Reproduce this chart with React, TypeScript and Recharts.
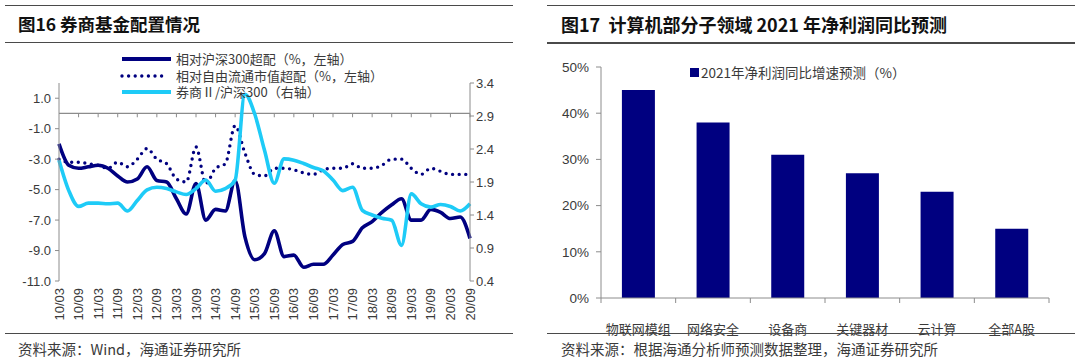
import React from 'react';
import { LineChart, Line, XAxis, YAxis, ReferenceLine, Legend, BarChart, Bar } from 'recharts';

const FONT = '"Liberation Sans", Arial, "Noto Sans CJK SC", sans-serif';
const CJK = '"Noto Sans CJK SC", "Liberation Sans", sans-serif';

// left panel: quarterly data 2010Q1 - 2020Q3
const quarterLabels = [
  '10/03', '10/06', '10/09', '10/12', '11/03', '11/06', '11/09', '11/12',
  '12/03', '12/06', '12/09', '12/12', '13/03', '13/06', '13/09', '13/12',
  '14/03', '14/06', '14/09', '14/12', '15/03', '15/06', '15/09', '15/12',
  '16/03', '16/06', '16/09', '16/12', '17/03', '17/06', '17/09', '17/12',
  '18/03', '18/06', '18/09', '18/12', '19/03', '19/06', '19/09', '19/12',
  '20/03', '20/06', '20/09',
];
const hs300Over = [
  -2.0, -3.4, -3.6, -3.5, -3.4, -3.6, -4.1, -4.5, -4.3, -3.5, -4.4, -4.5,
  -5.6, -6.6, -4.6, -7.0, -6.3, -6.4, -4.4, -8.1, -9.6, -9.2, -7.7, -9.4,
  -9.3, -10.1, -9.9, -9.9, -9.3, -8.6, -8.4, -7.5, -7.1, -6.5, -6.0, -5.6,
  -7.0, -7.0, -6.3, -6.5, -6.9, -6.8, -8.2,
];
const freeFloatOver = [
  -3.0, -3.2, -3.2, -3.3, -3.4, -3.6, -3.2, -3.5, -3.0, -2.3, -3.0, -3.3,
  -4.3, -4.5, -2.2, -4.6, -3.6, -3.3, -0.8, -2.6, -4.0, -4.1, -3.6, -3.6,
  -3.7, -3.9, -4.0, -3.7, -3.6, -3.6, -3.3, -3.6, -3.6, -3.4, -3.0, -3.0,
  -3.6, -4.0, -3.6, -3.8, -4.0, -4.0, -4.0,
];
const brokerRatio = [
  2.23, 1.77, 1.53, 1.58, 1.58, 1.57, 1.58, 1.46, 1.62, 1.78, 1.82, 1.80,
  1.75, 1.71, 1.80, 1.93, 1.76, 1.80, 1.93, 3.23, 2.93, 2.38, 1.88, 2.25,
  2.23, 2.18, 2.12, 2.07, 1.93, 1.77, 1.82, 1.47, 1.40, 1.35, 1.32, 0.94,
  1.72, 1.57, 1.52, 1.56, 1.53, 1.46, 1.57,
];
const leftTicks = [-11, -9, -7, -5, -3, -1, 1];
const rightTicks = [0.4, 0.9, 1.4, 1.9, 2.4, 2.9, 3.4];

// right panel
const sectors = ['物联网模组', '网络安全', '设备商', '关键器材', '云计算', '全部A股'];
const growth2021 = [45, 38, 31, 27, 23, 15];
const pctTicks = [0, 10, 20, 30, 40, 50];

const lineData = quarterLabels.map((q, i) => ({
  q,
  hs300: hs300Over[i],
  free: freeFloatOver[i],
  ratio: brokerRatio[i],
}));
const barData = sectors.map((name, i) => ({ name, growth: growth2021[i] }));

const NAVY = '#000080';
const CYAN = '#1ECBF7';
const AXIS = '#8c8c8c';
const TXT = '#3a3a3a';
const BAR_PLOT_W = 448;

const seriesOrder = ['hs300', 'free', 'ratio'];
const dashFor: Record<string, string | undefined> = { free: '0 6.6' };

function LineLegend(props: any) {
  const items = [...(props.payload || [])].sort(
    (a: any, b: any) => seriesOrder.indexOf(a.dataKey) - seriesOrder.indexOf(b.dataKey)
  );
  return (
    <div style={{ fontFamily: CJK, fontSize: 13, color: TXT, lineHeight: '16px' }}>
      {items.map((e: any) => (
        <div key={e.value} style={{ display: 'flex', alignItems: 'center', height: 16.5 }}>
          <svg width={56} height={8}>
            <line
              x1={3}
              y1={4}
              x2={dashFor[e.dataKey] ? 46 : 52}
              y2={4}
              stroke={e.color}
              strokeWidth={dashFor[e.dataKey] ? 3.4 : 4}
              strokeDasharray={dashFor[e.dataKey]}
              strokeLinecap={dashFor[e.dataKey] ? 'round' : 'butt'}
            />
          </svg>
          <span style={{ marginLeft: 1, whiteSpace: 'nowrap' }}>{e.value}</span>
        </div>
      ))}
    </div>
  );
}

function BarLegend(props: any) {
  const items = props.payload || [];
  return (
    <div style={{ fontFamily: CJK, fontSize: 13.5, color: TXT }}>
      {items.map((e: any) => (
        <div key={e.value} style={{ display: 'flex', alignItems: 'center' }}>
          <span style={{ width: 9, height: 9, background: e.color, display: 'inline-block' }} />
          <span style={{ marginLeft: 2, whiteSpace: 'nowrap' }}>{e.value}</span>
        </div>
      ))}
    </div>
  );
}

function QuarterTick(props: any) {
  const { x, y, payload } = props;
  return (
    <text
      transform={`translate(${x},${y + 7}) rotate(-90)`}
      textAnchor="end"
      dy="0.35em"
      fontFamily={FONT}
      fontSize={13}
      fill={TXT}
    >
      {payload.value}
    </text>
  );
}

function SectorTick(props: any) {
  const { x, y, payload, index } = props;
  const band = BAR_PLOT_W / sectors.length;
  const left = x - band / 2;
  return (
    <g>
      <line x1={left} y1={y} x2={left} y2={y + 5} stroke={AXIS} />
      {index === sectors.length - 1 && (
        <line x1={left + band} y1={y} x2={left + band} y2={y + 5} stroke={AXIS} />
      )}
      <text x={x} y={y + 31} textAnchor="middle" dy="0.35em" fontFamily={CJK} fontSize={13} fill={TXT}>
        {payload.value}
      </text>
    </g>
  );
}

function Rule({ left, top, width }: { left: number; top: number; width: number }) {
  return <div style={{ position: 'absolute', left, top, width, height: 1.5, background: '#4a4a4a' }} />;
}

function Caption({ left, top, children, bold, size }: any) {
  return (
    <div
      style={{
        position: 'absolute',
        left,
        top,
        fontFamily: CJK,
        fontSize: size,
        fontWeight: bold ? 700 : 400,
        color: bold ? '#111' : TXT,
        whiteSpace: 'pre',
        lineHeight: 1,
      }}
    >
      {children}
    </div>
  );
}

export default function App() {
  const tickSegments = quarterLabels.filter((_, i) => i > 0 && i % 2 === 0);
  return (
    <div style={{ position: 'absolute', left: 0, top: 0, width: 1080, height: 363, background: '#fff', overflow: 'hidden' }}>
      {/* left panel */}
      <Rule left={5} top={4.5} width={508} />
      <Caption left={18} top={15} bold size={17.5}>图16 券商基金配置情况</Caption>
      <Rule left={5} top={41.5} width={508} />

      <div style={{ position: 'absolute', left: 0, top: 0 }}>
        <LineChart width={520} height={340} data={lineData} margin={{ top: 83, right: 0, bottom: 0, left: 0 }}>
          <XAxis
            dataKey="q"
            interval={1}
            axisLine={false}
            tickLine={false}
            tickSize={0}
            tickMargin={0}
            height={59}
            tick={<QuarterTick />}
          />
          <YAxis
            yAxisId="l"
            domain={[-11, 2]}
            ticks={leftTicks}
            allowDataOverflow
            width={59}
            stroke={AXIS}
            tickSize={4}
            tickMargin={4}
            tickFormatter={(v: number) => v.toFixed(1)}
            tick={{ fontFamily: FONT, fontSize: 13, fill: TXT }}
          />
          <YAxis
            yAxisId="r"
            orientation="right"
            domain={[0.4, 3.4]}
            ticks={rightTicks}
            allowDataOverflow
            width={50}
            stroke={AXIS}
            tickSize={4}
            tickMargin={2}
            tickFormatter={(v: number) => v.toFixed(1)}
            tick={{ fontFamily: FONT, fontSize: 13, fill: TXT }}
          />
          <ReferenceLine yAxisId="l" y={0} stroke={AXIS} strokeWidth={1.2} />
          {tickSegments.map((q) => (
            <ReferenceLine
              key={q}
              yAxisId="l"
              segment={[{ x: q, y: 0 }, { x: q, y: -0.25 }]}
              stroke={AXIS}
            />
          ))}
          <Legend
            layout="horizontal"
            verticalAlign="middle"
            align="center"
            content={<LineLegend />}
            wrapperStyle={{ position: 'absolute', left: 119, top: 51, width: 320 }}
          />
          <Line
            yAxisId="l"
            dataKey="hs300"
            name="相对沪深300超配（%，左轴）"
            type="monotone"
            stroke={NAVY}
            strokeWidth={3.6}
            dot={false}
            isAnimationActive={false}
          />
          <Line
            yAxisId="l"
            dataKey="free"
            name="相对自由流通市值超配（%，左轴）"
            type="monotone"
            stroke={NAVY}
            strokeWidth={3.4}
            strokeDasharray="0 6.6"
            strokeLinecap="round"
            dot={false}
            isAnimationActive={false}
          />
          <Line
            yAxisId="r"
            dataKey="ratio"
            name="券商Ⅱ/沪深300（右轴）"
            type="monotone"
            stroke={CYAN}
            strokeWidth={3.6}
            dot={false}
            isAnimationActive={false}
          />
        </LineChart>
      </div>

      <Rule left={5} top={332.5} width={508} />
      <Caption left={18} top={342} size={14.5}>资料来源：Wind，海通证券研究所</Caption>

      {/* right panel */}
      <Rule left={547} top={4.5} width={528} />
      <Caption left={561} top={15} bold size={18}>图17  计算机部分子领域 2021 年净利润同比预测</Caption>
      <Rule left={547} top={42} width={528} />

      <div style={{ position: 'absolute', left: 540, top: 0 }}>
        <BarChart
          width={540}
          height={340}
          data={barData}
          margin={{ top: 67, right: 31, bottom: 0, left: 0 }}
          barCategoryGap="28%"
        >
          <XAxis
            dataKey="name"
            stroke={AXIS}
            tickLine={false}
            tickSize={0}
            tickMargin={0}
            height={42}
            interval={0}
            tick={<SectorTick />}
          />
          <YAxis
            domain={[0, 50]}
            ticks={pctTicks}
            width={61}
            stroke={AXIS}
            tickSize={5}
            tickMargin={7}
            tickFormatter={(v: number) => `${v}%`}
            tick={{ fontFamily: FONT, fontSize: 13.5, fill: TXT }}
          />
          <Legend
            layout="horizontal"
            verticalAlign="middle"
            align="center"
            content={<BarLegend />}
            wrapperStyle={{ position: 'absolute', left: 150, top: 62, width: 300 }}
          />
          <Bar dataKey="growth" name="2021年净利润同比增速预测（%）" fill={NAVY} isAnimationActive={false} />
        </BarChart>
      </div>

      <Rule left={547} top={332.5} width={528} />
      <Caption left={561} top={342} size={14.5}>资料来源：根据海通分析师预测数据整理，海通证券研究所</Caption>
    </div>
  );
}
